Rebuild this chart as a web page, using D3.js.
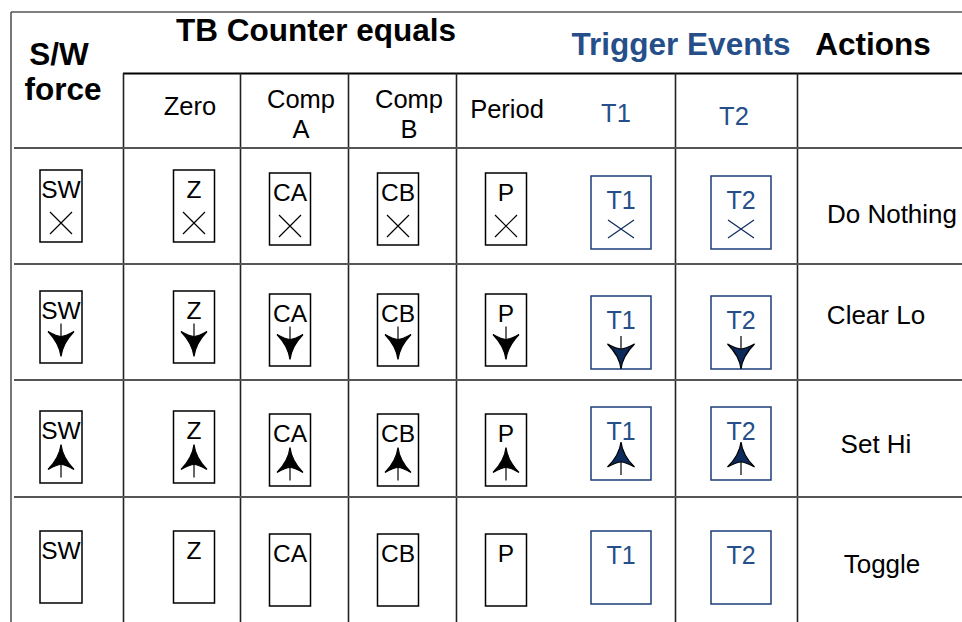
<!DOCTYPE html>
<html>
<head>
<meta charset="utf-8">
<script src="https://cdn.jsdelivr.net/npm/d3@7"></script>
<style>
  html, body { margin: 0; padding: 0; background: #fff; }
  svg { display: block; font-family: "Liberation Sans", Arial, sans-serif; }
</style>
</head>
<body>
<svg id="chart" width="962" height="622"></svg>
<script>
// ---------- data ----------
const columns = ["SW", "Z", "CA", "CB", "P", "T1", "T2"];
const triggerColumns = ["T1", "T2"];
const headerKeys = ["Zero", "CompA", "CompB", "Period", "T1", "T2"];
const headerLines = [["Zero"], ["Comp", "A"], ["Comp", "B"], ["Period"], ["T1"], ["T2"]];
const actions = ["Do Nothing", "Clear Lo", "Set Hi", "Toggle"];
const actionMarks = ["cross", "down", "up", "none"];
const titles = ["TB Counter equals", "Trigger Events", "Actions"];
const swLines = ["S/W", "force"];

// ---------- layout / style ----------
const W = 962, H = 622;
const BLACK = "#000", BLUE_TXT = "#264f8a", BLUE_BOX = "#1d3d78", NAVY = "#0c2a5c";
const GRID_DARK = "#222", GRID_GREY = "#555";

const svg = d3.select("#chart");

const xCol = d3.scaleOrdinal().domain(columns).range([61, 194, 290, 398, 506, 621, 741]);
const colDy = d3.scaleOrdinal().domain(columns).range([0, 0, 3, 3, 3, 0, 0]);
const boxW = d3.scaleOrdinal().domain(columns).range([42, 41, 41, 41, 41, 60, 60]);
const yRow = d3.scaleOrdinal().domain(actions).range([170, 291, 411, 531]);
const yRowTrig = d3.scaleOrdinal().domain(actions).range([176, 296, 407, 531]);
const xHead = d3.scaleOrdinal().domain(headerKeys).range([190, 301, 409, 507, 616, 734]);
const yHead = d3.scaleOrdinal().domain(headerKeys).range([115, 108, 108, 118, 122, 125]);
const xAct = d3.scaleOrdinal().domain(actions).range([892, 876, 876, 882]);
const yAct = d3.scaleOrdinal().domain(actions).range([223, 324, 453, 573]);

const hRows = d3.scaleOrdinal().domain([0, 1, 2, 3]).range([148, 264, 380, 497]);
const vLines = [123.5, 240.5, 348.5, 456.5, 675.5, 797.5];

const grid = svg.append("g");
grid.append("line").attr("x1", 11).attr("x2", W).attr("y1", 12).attr("y2", 12)
  .attr("stroke", GRID_GREY).attr("stroke-width", 1.6);
grid.append("line").attr("x1", 11).attr("x2", 11).attr("y1", 12).attr("y2", H)
  .attr("stroke", GRID_GREY).attr("stroke-width", 1.6);
grid.append("line").attr("x1", 123).attr("x2", W).attr("y1", 73.5).attr("y2", 73.5)
  .attr("stroke", BLACK).attr("stroke-width", 2);
grid.selectAll("line.v").data(vLines).join("line").attr("class", "v")
  .attr("x1", d => d).attr("x2", d => d).attr("y1", 73).attr("y2", H)
  .attr("stroke", GRID_DARK).attr("stroke-width", 1.6);
grid.selectAll("line.h").data(d3.range(4)).join("line").attr("class", "h")
  .attr("x1", 14).attr("x2", W).attr("y1", d => hRows(d)).attr("y2", d => hRows(d))
  .attr("stroke", GRID_GREY).attr("stroke-width", 2);

const T = svg.append("g").attr("font-weight", "bold").attr("font-size", 31.5);
T.append("text").attr("x", 316).attr("y", 41).attr("text-anchor", "middle").attr("fill", BLACK).text(titles[0]);
T.append("text").attr("x", 681).attr("y", 55).attr("text-anchor", "middle").attr("fill", BLUE_TXT).text(titles[1]);
T.append("text").attr("x", 873).attr("y", 55).attr("text-anchor", "middle").attr("fill", BLACK).text(titles[2]);
T.append("text").attr("x", 59).attr("y", 65).attr("text-anchor", "middle").attr("fill", BLACK).text(swLines[0]);
T.append("text").attr("x", 63).attr("y", 100).attr("text-anchor", "middle").attr("fill", BLACK).text(swLines[1]);

const hdr = svg.append("g").attr("font-size", 25.5).attr("text-anchor", "middle");
headerKeys.forEach((k, i) => {
  const t = hdr.append("text").attr("x", xHead(k)).attr("y", yHead(k))
    .attr("fill", (k === "T1" || k === "T2") ? BLUE_TXT : BLACK);
  headerLines[i].forEach((ln, j) => {
    t.append("tspan").attr("x", xHead(k)).attr("dy", j === 0 ? 0 : 30).text(ln);
  });
});

function arrowHead(cx, tip, s, hw) {
  const Hh = 25;
  const wingY = tip - s * Hh;
  const notchY = tip - s * (Hh - 5);
  const p = d3.path();
  p.moveTo(cx, tip);
  p.quadraticCurveTo(cx - 1.5, tip - s * 13, cx - hw, wingY);
  p.quadraticCurveTo(cx - 4, notchY, cx, notchY);
  p.quadraticCurveTo(cx + 4, notchY, cx + hw, wingY);
  p.quadraticCurveTo(cx + 1.5, tip - s * 13, cx, tip);
  p.closePath();
  return { d: p.toString(), notchY, stemEnd: tip - s * 33 };
}

const cells = [];
actions.forEach((a, ri) => columns.forEach(c => cells.push({ action: a, mark: actionMarks[ri], col: c })));

const cellG = svg.selectAll("g.cell").data(cells).join("g").attr("class", "cell");
cellG.each(function (d) {
  const g = d3.select(this);
  const trig = triggerColumns.includes(d.col);
  const cx = xCol(d.col);
  const top = trig ? yRowTrig(d.action) : yRow(d.action) + colDy(d.col);
  const bw = boxW(d.col), bh = trig ? 73 : 72;
  const strokeC = trig ? BLUE_BOX : BLACK;
  g.append("rect").attr("x", cx - bw / 2).attr("y", top).attr("width", bw).attr("height", bh)
    .attr("fill", "#fff").attr("stroke", strokeC).attr("stroke-width", 1.5);
  g.append("text").attr("x", cx).attr("y", top + (trig ? 32.5 : 28)).attr("text-anchor", "middle")
    .attr("font-size", trig ? 25 : 24.5).attr("fill", trig ? BLUE_TXT : BLACK).text(d.col);
  const lineC = trig ? NAVY : BLACK;
  if (d.mark === "cross") {
    const hx = trig ? 13 : 11, hy = trig ? 9 : 11, cy = top + 53;
    g.append("path").attr("d", `M${cx - hx},${cy - hy}L${cx + hx},${cy + hy}M${cx - hx},${cy + hy}L${cx + hx},${cy - hy}`)
      .attr("stroke", lineC).attr("stroke-width", 1.2).attr("fill", "none");
  } else if (d.mark === "down" || d.mark === "up") {
    const s = d.mark === "down" ? 1 : -1;
    let tip;
    if (s === 1) tip = trig ? top + 73 : top + 65.5;
    else tip = trig ? top + 35 : top + 33.5;
    const a = arrowHead(cx, tip, s, trig ? 13.5 : 13);
    g.append("line").attr("x1", cx).attr("x2", cx).attr("y1", a.notchY).attr("y2", a.stemEnd)
      .attr("stroke", BLACK).attr("stroke-width", 1.2);
    g.append("path").attr("d", a.d).attr("fill", trig ? NAVY : BLACK)
      .attr("stroke", BLACK).attr("stroke-width", 1.2);
  }
});

svg.append("g").attr("font-size", 26).attr("text-anchor", "middle").attr("fill", BLACK)
  .selectAll("text").data(actions).join("text")
  .attr("x", d => xAct(d)).attr("y", d => yAct(d)).text(d => d);
</script>
</body>
</html>
